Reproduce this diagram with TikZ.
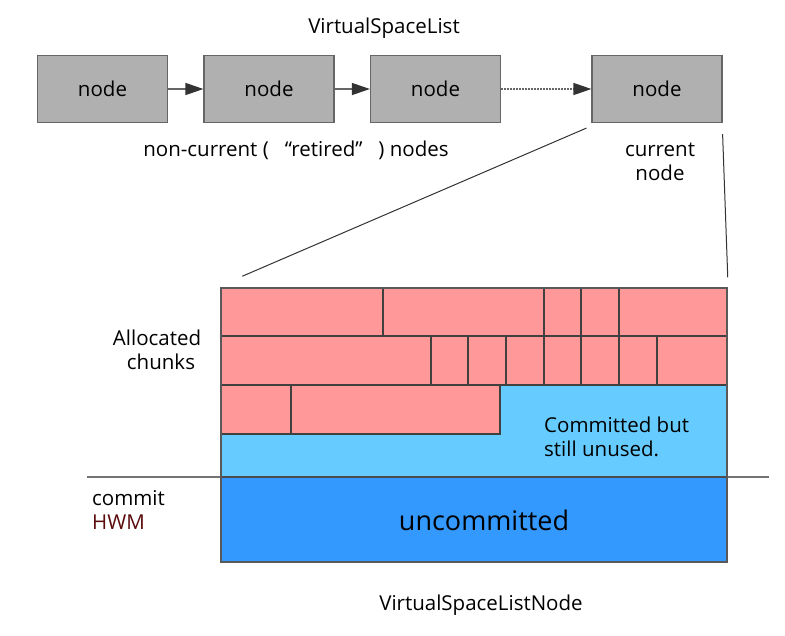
\documentclass[tikz,border=0pt]{standalone}
\usepackage{fontspec}
\setmainfont{Open Sans}
\usetikzlibrary{positioning,arrows.meta}

\definecolor{nodegray}{HTML}{B0B0B0}
\definecolor{chunkred}{HTML}{FF9999}
\definecolor{freeblue}{HTML}{66CCFF}
\definecolor{uncblue}{HTML}{3399FF}
\definecolor{hwmred}{HTML}{5A0A0A}

\begin{document}
\begin{tikzpicture}[x=1pt, y=-1pt, node distance=166.5pt, font=\fontsize{20.5}{24}\selectfont]
        % Define styles
        \tikzstyle{listnode} = [rectangle, minimum width=130pt, minimum height=67pt, text centered, draw=black!60, line width=1.2pt, fill=nodegray]
        \tikzstyle{arrow} = [draw=black!60, line width=1.5pt, -{Triangle[length=18pt,width=12pt,fill=black!80,color=black!80]}]
        \tikzstyle{chunk} = [draw=black!75, line width=1.2pt, fill=chunkred]
        \tikzstyle{label} = [align=center, inner sep=0pt]

        \useasboundingbox (0,0) rectangle (785,635);

        % Nodes
        \node (title) [label] at (384,28) {VirtualSpaceList};
        \node (n1) [listnode] at (102.5,89) {node};
        \node (n2) [listnode, right of=n1] {node};
        \node (n3) [listnode, right of=n2] {node};
        \node (n4) [listnode, right of=n3, xshift=55pt] {node};
        \node (retired) [label] at (296,150) {non-current (\hspace{16pt}“retired”\hspace{16pt}) nodes};
        \node (current) [label] at (660,162) {current\\node};

        % Arrows
        \draw [arrow] (n1) -- (n2);
        \draw [arrow] (n2) -- (n3);
        \draw [arrow, dash pattern=on 2pt off 1pt] (n3) -- (n4);

        % Commit line
        \coordinate (hwmL) at (87,477);
        \coordinate (hwmR) at (769,477);
        \draw [draw=black!55, line width=1.5pt] (hwmL) -- (hwmR);

        % Space list node
        \fill [freeblue] (221,385) rectangle (727,477);
        \fill [uncblue] (221,477) rectangle (727,562);
        \foreach \a/\b in {221/383, 383/544, 544/581, 581/619, 619/727}
            \draw [chunk] (\a,288) rectangle (\b,336);
        \foreach \a/\b in {221/431, 431/468, 468/506, 506/544, 544/581, 581/619, 619/657, 657/727}
            \draw [chunk] (\a,336) rectangle (\b,385);
        \foreach \a/\b in {221/291, 291/500}
            \draw [chunk] (\a,385) rectangle (\b,434);
        \draw [draw=black!70, line width=1.5pt] (221,477) -- (727,477);
        \node (vsn) [rectangle, draw=black!65, line width=1.5pt, minimum width=506pt, minimum height=274pt, inner sep=0pt] at (474,425) {};

        \node (alloc) [label] at (157,350) {Allocated\\\hspace{8pt}chunks};
        \node (unused) [label, align=left, anchor=west] at (544,437) {Committed but\\still unused.};
        \node (hwm) [label, align=left, anchor=west] at (92,510) {commit\\\textcolor{hwmred}{HWM}};
        \node (unc) [label, font=\fontsize{27}{32}\selectfont] at (484,520) {uncommitted};
        \node (caption) [label] at (481,605) {VirtualSpaceListNode};

        % Zoom lines
        \draw [black!80, line width=1pt] ([xshift=-5pt,yshift=-5pt]n4.south west) -- ([xshift=22pt,yshift=11pt]vsn.north west);
        \draw [black!80, line width=1pt] ([yshift=-11pt]n4.south east) -- ([yshift=10pt]vsn.north east);
    \end{tikzpicture}
\end{document}
